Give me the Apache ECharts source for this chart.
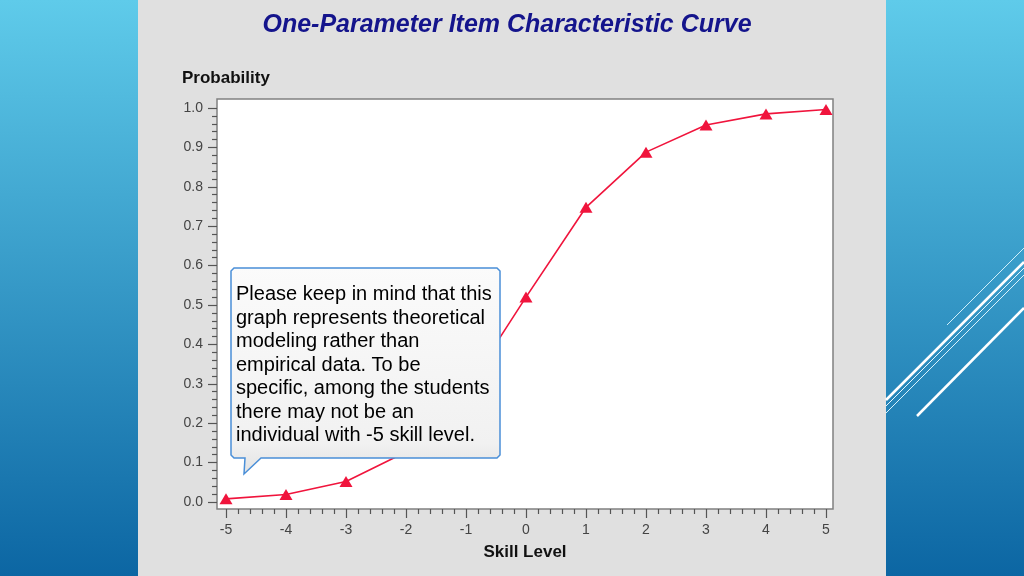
<!DOCTYPE html>
<html>
<head>
<meta charset="utf-8">
<script src="https://cdn.jsdelivr.net/npm/echarts@6/dist/echarts.min.js"></script>
<style>
  html, body { margin: 0; padding: 0; }
  #chart { width: 1024px; height: 576px; }
</style>
</head>
<body>
<div id="chart"></div>
<script>
// skill levels and probabilities
const skillLevels = [-5, -4, -3, -2, -1, 0, 1, 2, 3, 4, 5];
const probability = [0.008, 0.019, 0.052, 0.127, 0.284, 0.52, 0.748, 0.888, 0.957, 0.985, 0.996];
const noteLines = [
  'Please keep in mind that this',
  'graph represents theoretical',
  'modeling rather than',
  'empirical data. To be',
  'specific, among the students',
  'there may not be an',
  'individual with -5 skill level.'
];

const font = '"Liberation Sans", Arial, sans-serif';
const chart = echarts.init(document.getElementById('chart'));

const blueGrad = new echarts.graphic.LinearGradient(0, 0, 0, 1, [
  { offset: 0, color: '#5fcbea' },
  { offset: 1, color: '#0c66a3' }
]);

// callout bubble outline with the little tail at bottom-left
const bubble = [
  [234, 268], [497, 268], [500, 271], [500, 455], [497, 458],
  [261, 458], [244, 474], [245, 458], [234, 458], [231, 455], [231, 271]
];

const tickStyle = { color: '#555', width: 1.2 };

const option = {
  backgroundColor: '#e0e0e0',
  animation: false,
  graphic: [
    // blue side panels
    { type: 'rect', z: -20, shape: { x: 0, y: 0, width: 138, height: 576 }, style: { fill: blueGrad } },
    { type: 'rect', z: -20, shape: { x: 886, y: 0, width: 138, height: 576 }, style: { fill: blueGrad } },
    // white strokes on the right
    { type: 'line', z: -19, shape: { x1: 947, y1: 325, x2: 1024, y2: 248 }, style: { stroke: '#cfeefa', lineWidth: 1 } },
    { type: 'line', z: -19, shape: { x1: 886, y1: 400, x2: 1024, y2: 262 }, style: { stroke: '#ffffff', lineWidth: 2.5 } },
    { type: 'line', z: -19, shape: { x1: 886, y1: 406, x2: 1024, y2: 268 }, style: { stroke: '#e6f6fd', lineWidth: 1 } },
    { type: 'line', z: -19, shape: { x1: 886, y1: 413, x2: 1024, y2: 275 }, style: { stroke: '#d8f1fb', lineWidth: 1 } },
    { type: 'line', z: -19, shape: { x1: 917, y1: 416, x2: 1024, y2: 308 }, style: { stroke: '#ffffff', lineWidth: 2.5 } },
    // plot frame
    { type: 'rect', z: -10, shape: { x: 217, y: 99, width: 616, height: 410 },
      style: { fill: '#ffffff', stroke: '#808080', lineWidth: 1.5 } },
    // title and axis titles
    { type: 'text', x: 507, y: 25, style: { text: 'One-Parameter Item Characteristic Curve', fill: '#14148c',
        font: 'italic bold 25px ' + font, align: 'center', verticalAlign: 'middle' } },
    { type: 'text', x: 182, y: 78, style: { text: 'Probability', fill: '#111',
        font: 'bold 17px ' + font, align: 'left', verticalAlign: 'middle' } },
    { type: 'text', x: 525, y: 552, style: { text: 'Skill Level', fill: '#111',
        font: 'bold 17px ' + font, align: 'center', verticalAlign: 'middle' } },
    // callout
    { type: 'polygon', z: 100, shape: { points: bubble },
      style: {
        fill: new echarts.graphic.LinearGradient(0, 0, 0, 1, [
          { offset: 0, color: '#fbfbfb' },
          { offset: 0.85, color: '#f1f1f1' },
          { offset: 1, color: '#e2e2e2' }
        ]),
        stroke: '#4a8fd8', lineWidth: 1.5
      } },
    { type: 'text', z: 101, x: 236, y: 283, style: { text: noteLines.join('\n'), fill: '#000',
        font: '20px ' + font, lineHeight: 23.5, align: 'left', verticalAlign: 'top' } }
  ],
  grid: { left: 226, top: 108, width: 600, height: 394 },
  xAxis: {
    type: 'value', min: -5, max: 5, interval: 1, offset: 7, position: 'bottom',
    axisLine: { show: false, onZero: false },
    axisTick: { show: true, length: 9, lineStyle: tickStyle },
    minorTick: { show: true, splitNumber: 5, length: 5, lineStyle: tickStyle },
    splitLine: { show: false },
    axisLabel: { color: '#444', fontSize: 14, fontFamily: font, margin: 14 }
  },
  yAxis: {
    type: 'value', min: 0, max: 1, interval: 0.1, offset: 9, position: 'left',
    axisLine: { show: false, onZero: false },
    axisTick: { show: true, length: 9, lineStyle: tickStyle },
    minorTick: { show: true, splitNumber: 5, length: 5, lineStyle: tickStyle },
    splitLine: { show: false },
    axisLabel: { color: '#444', fontSize: 14, fontFamily: font, margin: 14,
      formatter: v => v.toFixed(1) }
  },
  series: [{
    type: 'line',
    data: skillLevels.map((x, i) => [x, probability[i]]),
    clip: false,
    symbol: 'triangle',
    symbolSize: [13, 11],
    itemStyle: { color: '#f0143c' },
    lineStyle: { color: '#f0143c', width: 1.6 }
  }]
};

chart.setOption(option);
</script>
</body>
</html>
